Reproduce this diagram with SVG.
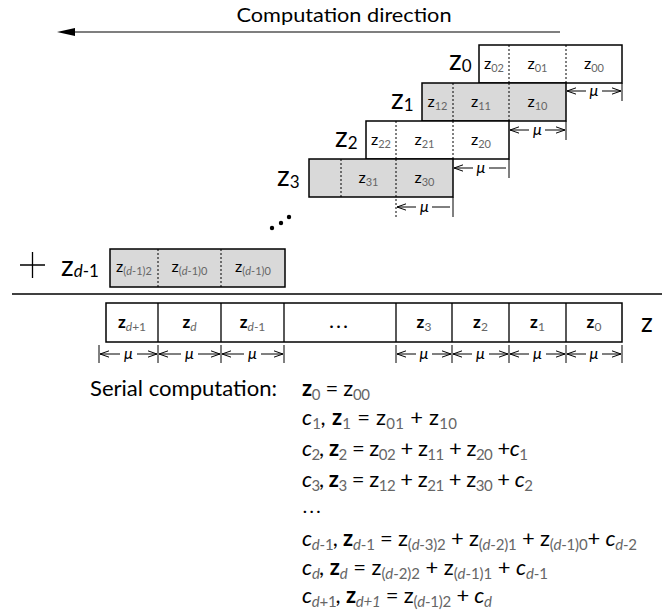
<svg xmlns="http://www.w3.org/2000/svg" width="672" height="612" viewBox="0 0 672 612">
<style>
text{font-family:Lato,"Liberation Sans",sans-serif;fill:#000}
.s{fill:#666}
.i{font-style:italic}
.b{font-weight:bold}
.box{stroke:#000;stroke-width:1.5}
.w{fill:#fff}
.g{fill:#d9d9d9}
.dv{stroke:#000;stroke-width:1;stroke-dasharray:2 2}
.sd{stroke:#000;stroke-width:1.3}
.ln{stroke:#000;stroke-width:1;fill:none}
.mu{stroke:#000;stroke-width:1;fill:none;marker-end:url(#op)}
.cell{font-size:16px;text-anchor:middle}
.cell .s{font-size:11px}
.lab{font-size:28px}
.lab .s{font-size:17px;fill:#000}
.bot{font-size:17px;text-anchor:middle}
.bot .s{font-size:12px}
.eq{font-size:22px}
.eq .s{font-size:15px}
.m{font-size:16px;font-style:italic;text-anchor:middle}
</style>
<defs>
<marker id="op" viewBox="0 0 10 10" refX="10" refY="5" markerWidth="9" markerHeight="9" markerUnits="userSpaceOnUse" orient="auto"><path d="M0,1.5 L10,5 L0,8.5" fill="none" stroke="#000" stroke-width="1.1"/></marker>
</defs>

<g id="title">
<text x="344" y="22" font-size="20" text-anchor="middle" textLength="215" lengthAdjust="spacingAndGlyphs">Computation direction</text>
</g>

<g id="row-z0">
<rect class="box w" x="479" y="45" width="143" height="38"/>
<line class="dv" x1="509" y1="45" x2="509" y2="83"/>
<line class="dv" x1="566" y1="45" x2="566" y2="83"/>
<text class="lab" x="449" y="70">z<tspan class="s" dy="2">0</tspan></text>
<text class="cell" x="494" y="69">z<tspan class="s" dy="3">02</tspan></text>
<text class="cell" x="537.5" y="69">z<tspan class="s" dy="3">01</tspan></text>
<text class="cell" x="594" y="69">z<tspan class="s" dy="3">00</tspan></text>
</g>

<g id="row-z1">
<rect class="box g" x="422" y="83" width="144" height="38"/>
<line class="dv" x1="453" y1="83" x2="453" y2="121"/>
<line class="dv" x1="509" y1="83" x2="509" y2="121"/>
<text class="lab" x="391" y="109">z<tspan class="s" dy="2">1</tspan></text>
<text class="cell" x="437.5" y="107">z<tspan class="s" dy="3">12</tspan></text>
<text class="cell" x="481" y="107">z<tspan class="s" dy="3">11</tspan></text>
<text class="cell" x="537.5" y="107">z<tspan class="s" dy="3">10</tspan></text>
</g>

<g id="row-z2">
<rect class="box w" x="366" y="121" width="143" height="38"/>
<line class="dv" x1="396" y1="121" x2="396" y2="159"/>
<line class="dv" x1="453" y1="121" x2="453" y2="159"/>
<text class="lab" x="335" y="147">z<tspan class="s" dy="2">2</tspan></text>
<text class="cell" x="381" y="145">z<tspan class="s" dy="3">22</tspan></text>
<text class="cell" x="424.5" y="145">z<tspan class="s" dy="3">21</tspan></text>
<text class="cell" x="481" y="145">z<tspan class="s" dy="3">20</tspan></text>
</g>

<g id="row-z3">
<rect class="box g" x="309" y="159" width="144" height="38"/>
<line class="dv" x1="341" y1="159" x2="341" y2="197"/>
<line class="dv" x1="396" y1="159" x2="396" y2="217"/>
<text class="lab" x="277" y="186">z<tspan class="s" dy="2">3</tspan></text>
<text class="cell" x="368.5" y="183">z<tspan class="s" dy="3">31</tspan></text>
<text class="cell" x="424.5" y="183">z<tspan class="s" dy="3">30</tspan></text>
</g>

<g id="ellipsis">
<circle cx="272" cy="228" r="2.2"/>
<circle cx="281" cy="223" r="2.2"/>
<circle cx="289" cy="217" r="2.2"/>
</g>

<g id="row-zd1">
<path class="sd" d="M20,265 H45 M32.5,252 V278" stroke-width="1.1"/>
<text class="lab" x="61" y="276">z<tspan class="s i" dy="1">d</tspan><tspan class="s" font-size="17">-1</tspan></text>
<rect class="box g" x="110" y="249" width="175" height="38"/>
<line class="dv" x1="158" y1="249" x2="158" y2="287"/>
<line class="dv" x1="221" y1="249" x2="221" y2="287"/>
<text class="cell" x="134" y="272" font-size="15">z<tspan class="s" dy="3">(<tspan class="i">d</tspan>-1)2</tspan></text>
<text class="cell" x="189.5" y="272" font-size="15">z<tspan class="s" dy="3">(<tspan class="i">d</tspan>-1)0</tspan></text>
<text class="cell" x="253" y="272" font-size="15">z<tspan class="s" dy="3">(<tspan class="i">d</tspan>-1)0</tspan></text>
</g>

<g id="sum-line">
<line x1="12" y1="294" x2="662" y2="294" stroke="#000" stroke-width="1.5"/>
</g>

<g id="row-result">
<rect class="box w" x="106" y="303" width="516" height="39"/>
<path class="sd" d="M158,303 V342 M221,303 V342 M284,303 V342 M396,303 V342 M452,303 V342 M509,303 V342 M566,303 V342"/>
<text class="bot" x="132" y="328"><tspan class="b">z</tspan><tspan class="s" dy="3"><tspan class="i">d</tspan>+1</tspan></text>
<text class="bot" x="189.5" y="328"><tspan class="b">z</tspan><tspan class="s i" dy="3">d</tspan></text>
<text class="bot" x="252.5" y="328"><tspan class="b">z</tspan><tspan class="s" dy="3"><tspan class="i">d</tspan>-1</tspan></text>
<text class="bot b" x="340" y="328" letter-spacing="3">...</text>
<text class="bot" x="424" y="328"><tspan class="b">z</tspan><tspan class="s" dy="3">3</tspan></text>
<text class="bot" x="480.5" y="328"><tspan class="b">z</tspan><tspan class="s" dy="3">2</tspan></text>
<text class="bot" x="537.5" y="328"><tspan class="b">z</tspan><tspan class="s" dy="3">1</tspan></text>
<text class="bot" x="594" y="328"><tspan class="b">z</tspan><tspan class="s" dy="3">0</tspan></text>
<text x="641" y="332" font-size="26">z</text>
</g>

<g id="connectors">
<line x1="72" y1="32" x2="560" y2="32" stroke="#000" stroke-width="1.2"/>
<polygon points="57,32 75,28 75,36" fill="#000"/>
<!-- z0 mu -->
<line class="ln" x1="622" y1="83" x2="622" y2="101"/>
<path class="mu" d="M586,91 H567"/><path class="mu" d="M602,91 H621"/>
<text class="m" x="594" y="96">μ</text>
<!-- z1 mu -->
<line class="ln" x1="566" y1="121" x2="566" y2="140"/>
<path class="mu" d="M529,130 H510"/><path class="mu" d="M545,130 H565"/>
<text class="m" x="537.5" y="135">μ</text>
<!-- z2 mu -->
<line class="ln" x1="509" y1="159" x2="509" y2="178"/>
<path class="mu" d="M473,168 H454"/><line class="ln" x1="489" y1="168" x2="506" y2="168"/>
<text class="m" x="481" y="173">μ</text>
<!-- z3 mu -->
<line class="ln" x1="453" y1="197" x2="453" y2="217"/>
<path class="mu" d="M416,207 H397"/><line class="ln" x1="432" y1="207" x2="450" y2="207"/>
<text class="m" x="424.5" y="212">μ</text>
<!-- bottom mu -->
<path class="ln" d="M99,345 V363 M158,345 V363 M221,345 V363 M284,345 V363 M396,345 V363 M452,345 V363 M509,345 V363 M566,345 V363 M622,345 V363"/>
<path class="mu" d="M120,354 H100"/><path class="mu" d="M137,354 H157"/>
<text class="m" x="128.5" y="359">μ</text>
<path class="mu" d="M181,354 H159"/><path class="mu" d="M198,354 H220"/>
<text class="m" x="189.5" y="359">μ</text>
<path class="mu" d="M244,354 H222"/><path class="mu" d="M261,354 H283"/>
<text class="m" x="252.5" y="359">μ</text>
<path class="mu" d="M416,354 H397"/><path class="mu" d="M432,354 H451"/>
<text class="m" x="424" y="359">μ</text>
<path class="mu" d="M472,354 H453"/><path class="mu" d="M489,354 H508"/>
<text class="m" x="480.5" y="359">μ</text>
<path class="mu" d="M529,354 H510"/><path class="mu" d="M546,354 H565"/>
<text class="m" x="537.5" y="359">μ</text>
<path class="mu" d="M586,354 H567"/><path class="mu" d="M602,354 H621"/>
<text class="m" x="594" y="359">μ</text>
</g>

<g id="equations">
<text x="90" y="396" font-size="22" textLength="187" lengthAdjust="spacingAndGlyphs">Serial computation:</text>
<text class="eq" x="302" y="396" textLength="68"><tspan class="b">z</tspan><tspan class="s" dy="4">0</tspan><tspan dy="-4"> = z</tspan><tspan class="s" dy="4">00</tspan></text>
<text class="eq" x="302" y="425" textLength="155"><tspan class="i">c</tspan><tspan class="s" dy="4">1</tspan><tspan dy="-4" class="i">, </tspan><tspan class="b">z</tspan><tspan class="s" dy="4">1</tspan><tspan dy="-4"> = z</tspan><tspan class="s" dy="4">01</tspan><tspan dy="-4"> + z</tspan><tspan class="s" dy="4">10</tspan></text>
<text class="eq" x="302" y="456" textLength="226"><tspan class="i">c</tspan><tspan class="s" dy="4">2</tspan><tspan dy="-4" class="i">, </tspan><tspan class="b">z</tspan><tspan class="s" dy="4">2</tspan><tspan dy="-4"> = z</tspan><tspan class="s" dy="4">02</tspan><tspan dy="-4"> + z</tspan><tspan class="s" dy="4">11</tspan><tspan dy="-4"> + z</tspan><tspan class="s" dy="4">20</tspan><tspan dy="-4"> +</tspan><tspan class="i">c</tspan><tspan class="s" dy="4">1</tspan></text>
<text class="eq" x="302" y="487" textLength="231"><tspan class="i">c</tspan><tspan class="s" dy="4">3</tspan><tspan dy="-4" class="i">, </tspan><tspan class="b">z</tspan><tspan class="s" dy="4">3</tspan><tspan dy="-4"> = z</tspan><tspan class="s" dy="4">12</tspan><tspan dy="-4"> + z</tspan><tspan class="s" dy="4">21</tspan><tspan dy="-4"> + z</tspan><tspan class="s" dy="4">30</tspan><tspan dy="-4"> + </tspan><tspan class="i">c</tspan><tspan class="s" dy="4">2</tspan></text>
<text class="b" x="303" y="513" font-size="16" letter-spacing="3">...</text>
<text class="eq" x="302" y="546" textLength="335"><tspan class="i">c</tspan><tspan class="s" dy="4"><tspan class="i">d</tspan>-1</tspan><tspan dy="-4" class="i">, </tspan><tspan class="b">z</tspan><tspan class="s" dy="4"><tspan class="i">d</tspan>-1</tspan><tspan dy="-4"> = z</tspan><tspan class="s" dy="4">(<tspan class="i">d</tspan>-3)2</tspan><tspan dy="-4"> + z</tspan><tspan class="s" dy="4">(<tspan class="i">d</tspan>-2)1</tspan><tspan dy="-4"> + z</tspan><tspan class="s" dy="4">(<tspan class="i">d</tspan>-1)0</tspan><tspan dy="-4">+ </tspan><tspan class="i">c</tspan><tspan class="s" dy="4"><tspan class="i">d</tspan>-2</tspan></text>
<text class="eq" x="302" y="575" textLength="246"><tspan class="i">c</tspan><tspan class="s i" dy="4">d</tspan><tspan dy="-4" class="i">, </tspan><tspan class="b">z</tspan><tspan class="s i" dy="4">d</tspan><tspan dy="-4">  = z</tspan><tspan class="s" dy="4">(<tspan class="i">d</tspan>-2)2</tspan><tspan dy="-4"> + z</tspan><tspan class="s" dy="4">(<tspan class="i">d</tspan>-1)1</tspan><tspan dy="-4"> + </tspan><tspan class="i">c</tspan><tspan class="s" dy="4"><tspan class="i">d</tspan>-1</tspan></text>
<text class="eq" x="302" y="603" textLength="190"><tspan class="i">c</tspan><tspan class="s" dy="4"><tspan class="i">d</tspan>+1</tspan><tspan dy="-4" class="i">, </tspan><tspan class="b">z</tspan><tspan class="s i" dy="4">d+1</tspan><tspan dy="-4"> = z</tspan><tspan class="s" dy="4">(<tspan class="i">d</tspan>-1)2</tspan><tspan dy="-4"> + </tspan><tspan class="i">c</tspan><tspan class="s i" dy="4">d</tspan></text>
</g>
</svg>
